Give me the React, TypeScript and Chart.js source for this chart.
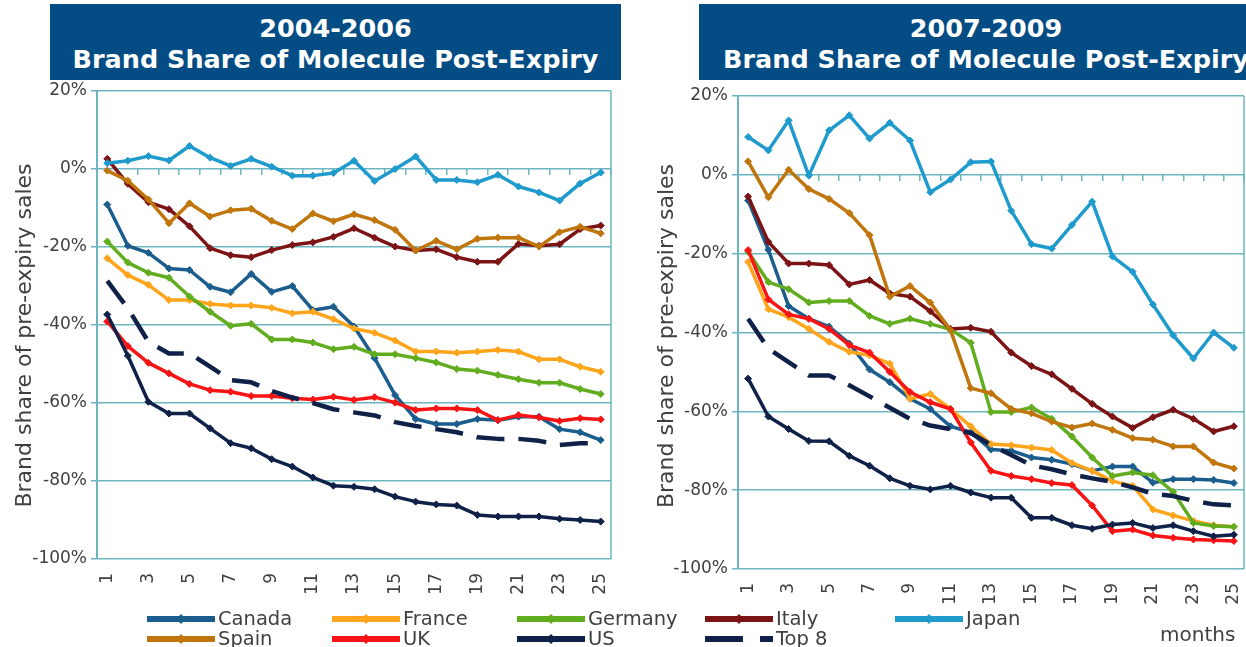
import React, { useEffect, useRef } from 'react';
import { Chart, registerables } from 'chart.js';

Chart.register(...registerables);

// ---------- DATA ----------
const months = ['1','2','3','4','5','6','7','8','9','10','11','12','13','14','15','16','17','18','19','20','21','22','23','24','25'];
const seriesNames = ['Canada', 'France', 'Germany', 'Italy', 'Japan', 'Spain', 'UK', 'US', 'Top 8'];

// 2004-2006 (brand share, %)
const canada04 = [-9.1,-19.7,-21.5,-25.5,-25.9,-30.2,-31.6,-26.9,-31.5,-30.0,-36.2,-35.3,-40.4,-48.5,-58.0,-64.1,-65.4,-65.4,-64.1,-64.4,-63.5,-63.5,-66.7,-67.5,-69.5];
const france04 = [-22.9,-27.2,-29.7,-33.6,-33.6,-34.6,-35.0,-35.0,-35.6,-37.0,-36.6,-38.5,-40.9,-42.0,-44.0,-46.8,-46.8,-47.1,-46.8,-46.4,-46.8,-48.8,-48.8,-50.7,-52.0];
const germany04 = [-18.6,-24.0,-26.6,-27.9,-32.7,-36.6,-40.2,-39.7,-43.7,-43.7,-44.5,-46.2,-45.6,-47.5,-47.5,-48.5,-49.6,-51.3,-51.7,-52.8,-53.9,-54.8,-54.8,-56.4,-57.7];
const italy04 = [2.6,-3.8,-8.5,-10.3,-14.7,-20.3,-22.1,-22.6,-20.8,-19.5,-18.8,-17.4,-15.2,-17.6,-19.9,-20.9,-20.6,-22.6,-23.8,-23.8,-19.2,-19.7,-19.3,-15.4,-14.5];
const japan04 = [1.5,2.1,3.3,2.2,5.9,2.9,0.8,2.6,0.6,-1.7,-1.7,-1.0,2.1,-3.1,0.0,3.2,-2.8,-2.8,-3.4,-1.5,-4.5,-6.0,-8.1,-3.7,-0.9];
const spain04 = [-0.4,-3.0,-7.8,-13.9,-8.8,-12.2,-10.6,-10.2,-13.3,-15.4,-11.4,-13.4,-11.6,-13.1,-15.6,-20.9,-18.4,-20.6,-17.9,-17.6,-17.6,-19.9,-16.2,-14.8,-16.5];
const uk04 = [-39.1,-45.4,-49.7,-52.4,-55.1,-56.7,-57.1,-58.2,-58.2,-58.8,-59.1,-58.4,-59.2,-58.5,-59.9,-61.8,-61.4,-61.4,-61.8,-64.4,-63.1,-63.7,-64.6,-63.9,-64.2];
const us04 = [-37.3,-47.9,-59.7,-62.7,-62.7,-66.5,-70.3,-71.6,-74.4,-76.3,-79.1,-81.2,-81.5,-82.1,-84.0,-85.3,-86.0,-86.3,-88.7,-89.1,-89.1,-89.1,-89.7,-90.0,-90.4];
const top804 = [-28.7,-35.7,-44.3,-47.3,-47.3,-50.7,-54.1,-54.7,-56.9,-58.6,-60.0,-61.6,-62.4,-63.2,-64.9,-65.9,-66.7,-67.5,-68.8,-69.2,-69.2,-69.7,-70.8,-70.3,-70.3];

// 2007-2009 (brand share, %)
const canada07 = [-6.5,-19.0,-33.3,-36.5,-38.5,-42.8,-49.4,-52.6,-56.8,-59.4,-63.8,-65.3,-69.7,-70.0,-71.7,-72.3,-73.4,-75.1,-74.0,-74.0,-78.1,-77.2,-77.2,-77.4,-78.2];
const france07 = [-22.1,-34.1,-36.1,-39.1,-42.4,-44.9,-45.8,-47.9,-56.8,-55.6,-59.4,-63.8,-68.3,-68.6,-69.2,-69.8,-73.1,-75.1,-77.7,-78.9,-84.9,-86.4,-87.8,-88.9,-89.3];
const germany07 = [-19.5,-27.2,-29.0,-32.4,-32.0,-32.0,-35.8,-37.8,-36.5,-37.8,-39.2,-42.6,-60.2,-60.2,-59.0,-61.9,-66.4,-71.7,-76.4,-75.5,-76.2,-80.4,-88.3,-89.1,-89.3];
const italy07 = [-5.5,-17.0,-22.5,-22.5,-22.9,-27.8,-26.7,-30.1,-30.9,-34.6,-39.1,-38.8,-39.8,-45.1,-48.5,-50.6,-54.3,-58.1,-61.3,-64.2,-61.5,-59.6,-61.9,-65.1,-63.8];
const japan07 = [9.6,6.2,13.8,-0.2,11.3,15.1,9.2,13.2,8.7,-4.4,-1.2,3.2,3.4,-9.1,-17.6,-18.7,-12.7,-6.8,-20.7,-24.6,-32.9,-40.7,-46.6,-40.0,-43.9];
const spain07 = [3.4,-5.7,1.3,-3.6,-6.1,-9.7,-15.3,-30.9,-28.2,-32.4,-39.4,-54.1,-55.4,-59.4,-60.5,-62.6,-64.1,-63.1,-64.7,-66.8,-67.2,-68.9,-68.9,-73.0,-74.5];
const uk07 = [-19.1,-31.6,-35.4,-36.5,-39.1,-43.2,-45.1,-50.0,-55.1,-57.7,-59.4,-67.9,-75.1,-76.4,-77.2,-78.2,-78.7,-83.9,-90.4,-90.0,-91.5,-92.1,-92.5,-92.7,-92.9];
const us07 = [-51.7,-61.3,-64.5,-67.5,-67.6,-71.3,-73.8,-77.0,-78.9,-79.8,-78.9,-80.6,-81.9,-81.9,-87.0,-87.0,-88.9,-89.8,-88.7,-88.3,-89.6,-88.9,-90.4,-91.7,-91.3];
const top807 = [-36.5,-44.1,-47.5,-50.9,-50.9,-53.4,-56.2,-59.1,-61.9,-63.6,-64.5,-65.5,-68.5,-71.1,-73.7,-74.7,-76.0,-77.0,-77.9,-79.3,-80.9,-81.5,-82.7,-83.6,-83.9];

const series04 = [canada04, france04, germany04, italy04, japan04, spain04, uk04, us04, top804];
const series07 = [canada07, france07, germany07, italy07, japan07, spain07, uk07, us07, top807];

const yMin = -100;
const yMax = 20;
const yStep = 20;
const titleYears = ['2004-2006', '2007-2009'];
const titleMain = 'Brand Share of Molecule Post-Expiry';
const yTitle = 'Brand share of pre-expiry sales';
const xTitle = 'months';

// ---------- STYLE ----------
const COLORS = ['#1B5E8E', '#FFA51C', '#62AD1F', '#7C1416', '#1E9ACD', '#C0760C', '#F81414', '#0F2148', '#0F2148'];
const GRID = '#6DB6BF';
const TEXT = '#404040';
const FONT = "'DejaVu Sans', Verdana, sans-serif";
const HEADER_BG = '#044C84';

type Geom = { padTop: number; padRight: number; yWidth: number; xHeight: number; titlePad: number; titleShift: string };

const framePlugin = {
  id: 'frameRight',
  beforeDatasetsDraw(chart: any) {
    const { ctx, chartArea } = chart;
    ctx.save();
    ctx.strokeStyle = GRID;
    ctx.lineWidth = 1.5;
    ctx.beginPath();
    ctx.moveTo(chartArea.right, chartArea.top);
    ctx.lineTo(chartArea.right, chartArea.bottom);
    ctx.stroke();
    ctx.restore();
  },
};

function noPad(s: any) {
  s.paddingLeft = 0;
  s.paddingRight = 0;
  s.paddingTop = 0;
  s.paddingBottom = 0;
}

function buildConfig(values: number[][], g: Geom): any {
  const datasets = values.map((data, i) => {
    const dashed = seriesNames[i] === 'Top 8';
    return {
      label: seriesNames[i],
      data,
      borderColor: COLORS[i],
      backgroundColor: COLORS[i],
      borderWidth: dashed ? 4.5 : 3.5,
      borderDash: dashed ? [28, 14] : [],
      borderCapStyle: 'butt',
      borderJoinStyle: 'round',
      pointStyle: 'rectRot',
      pointRadius: dashed ? 0 : 3.5,
      pointBorderWidth: 1,
      pointBorderColor: COLORS[i],
      pointBackgroundColor: COLORS[i],
      tension: 0,
      order: values.length - i,
    };
  });
  return {
    type: 'line',
    data: { labels: months, datasets },
    plugins: [framePlugin],
    options: {
      responsive: false,
      animation: false,
      devicePixelRatio: 1,
      layout: { padding: { top: g.padTop, right: g.padRight, left: 0, bottom: 0 } },
      plugins: { legend: { display: false }, tooltip: { enabled: false }, title: { display: false } },
      scales: {
        x: {
          type: 'category',
          position: 'bottom',
          offset: true,
          grid: { display: false, drawTicks: false },
          border: { display: false },
          ticks: {
            autoSkip: false,
            minRotation: 90,
            maxRotation: 90,
            padding: 14,
            color: TEXT,
            font: { family: FONT, size: 17 },
            callback: (_v: any, idx: number) => (idx % 2 === 0 ? months[idx] : ''),
          },
          afterFit: (s: any) => { s.height = g.xHeight; noPad(s); },
        },
        x2: {
          type: 'category',
          axis: 'x',
          position: { y: 0 },
          offset: true,
          grid: { display: true, offset: true, drawOnChartArea: false, drawTicks: true, tickLength: 6, color: GRID, lineWidth: 1.5 },
          border: { display: false },
          ticks: { display: false },
          afterFit: (s: any) => { s.height = 0; noPad(s); },
        },
        y: {
          type: 'linear',
          position: 'left',
          min: yMin,
          max: yMax,
          grid: { color: GRID, lineWidth: 1.5, drawTicks: true, tickLength: 6 },
          border: { display: true, color: GRID, width: 2 },
          ticks: {
            stepSize: yStep,
            padding: 4,
            color: TEXT,
            font: { family: FONT, size: 17 },
            callback: (v: any) => `${v}%`,
          },
          title: {
            display: true,
            text: yTitle + g.titleShift,
            color: TEXT,
            font: { family: FONT, size: 22 },
            padding: { top: g.titlePad, bottom: 0 },
          },
          afterFit: (s: any) => { s.width = g.yWidth; noPad(s); },
        },
      },
    },
  };
}

function LineChart({ values, geom, left, width }: { values: number[][]; geom: Geom; left: number; width: number }) {
  const ref = useRef<HTMLCanvasElement>(null);
  useEffect(() => {
    const chart = new Chart(ref.current as HTMLCanvasElement, buildConfig(values, geom));
    return () => chart.destroy();
  }, []);
  return (
    <canvas
      ref={ref}
      width={width}
      height={647}
      style={{ position: 'absolute', left, top: 0, width, height: 647 }}
    />
  );
}

function Header({ left, width, years }: { left: number; width: number; years: string }) {
  return (
    <div
      style={{
        position: 'absolute', left, top: 4, width, height: 76, boxSizing: 'border-box', paddingTop: 9,
        background: HEADER_BG, color: '#fff', fontFamily: FONT, fontWeight: 'bold', fontSize: 25.5,
        lineHeight: '31px', display: 'flex', flexDirection: 'column', alignItems: 'center',
        justifyContent: 'flex-start', whiteSpace: 'nowrap',
      }}
    >
      <div>{years}</div>
      <div>{titleMain}</div>
    </div>
  );
}

function LegendItem({ name, color, x, y }: { name: string; color: string; x: number; y: number }) {
  const dashed = name === 'Top 8';
  return (
    <div style={{ position: 'absolute', left: x, top: y - 11, height: 22, display: 'flex', alignItems: 'center', whiteSpace: 'nowrap' }}>
      <svg width={68} height={14} style={{ display: 'block' }}>
        <line x1={0} y1={7} x2={68} y2={7} stroke={color} strokeWidth={6} strokeDasharray={dashed ? '38 17' : undefined} />
        {!dashed && <polygon points="34,2 39,7 34,12 29,7" fill={color} />}
      </svg>
      <span style={{ marginLeft: 3, fontFamily: FONT, fontSize: 19.5, color: TEXT, lineHeight: '22px' }}>{name}</span>
    </div>
  );
}

const legendSlots = [
  [147, 619], [332, 619], [517, 619], [705, 619], [895, 619],
  [147, 639], [332, 639], [517, 639], [705, 639],
];

export default function App() {
  return (
    <div style={{ position: 'fixed', left: 0, top: 0, width: 1246, height: 647, overflow: 'hidden', background: '#fff' }}>
      <LineChart values={series04} left={0} width={625} geom={{ padTop: 91, padRight: 14, yWidth: 97, xHeight: 88, titlePad: 12, titleShift: '\u00a0\u00a0\u00a0' }} />
      <LineChart values={series07} left={625} width={624} geom={{ padTop: 96, padRight: 1.5, yWidth: 113, xHeight: 78, titlePad: 29, titleShift: '\u00a0' }} />
      <Header left={50} width={571} years={titleYears[0]} />
      <Header left={699} width={574} years={titleYears[1]} />
      {seriesNames.map((n, i) => (
        <LegendItem key={n} name={n} color={COLORS[i]} x={legendSlots[i][0]} y={legendSlots[i][1]} />
      ))}
      <div style={{ position: 'absolute', left: 1160, top: 623, fontFamily: FONT, fontSize: 20, color: TEXT, lineHeight: '22px' }}>{xTitle}</div>
    </div>
  );
}
